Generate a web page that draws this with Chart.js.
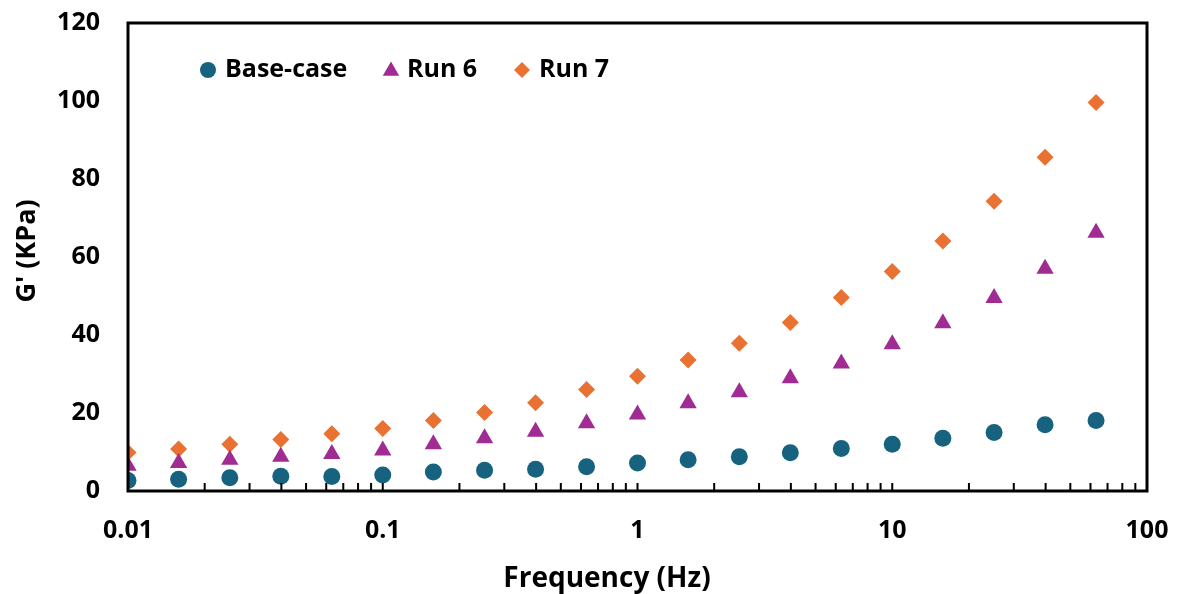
<!DOCTYPE html>
<html>
<head>
<meta charset="utf-8">
<script src="https://cdn.jsdelivr.net/npm/chart.js@4"></script>
<style>
  body { margin: 0; background: #fff; }
  #wrap { width: 1179px; height: 594px; position: relative; }
</style>
</head>
<body>
<div id="wrap"><canvas id="myChart"></canvas></div>
<script>
// frequency (Hz)
const freqs = [0.01, 0.0158, 0.0251, 0.0398, 0.0631, 0.1, 0.158, 0.251, 0.398, 0.631,
               1, 1.58, 2.51, 3.98, 6.31, 10, 15.8, 25.1, 39.8, 63.1];
// G' (KPa)
const baseCase = [2.7, 3.0, 3.4, 3.8, 3.7, 4.1, 4.9, 5.3, 5.6, 6.2,
                  7.2, 8.0, 8.8, 9.8, 10.9, 12.0, 13.5, 15.0, 17.0, 18.1];
const run6 = [6.5, 7.2, 8.0, 8.8, 9.5, 10.4, 12.0, 13.5, 15.2, 17.4,
              19.6, 22.5, 25.3, 28.9, 32.7, 37.6, 43.0, 49.5, 57.0, 66.2];
const run7 = [9.9, 10.8, 12.0, 13.2, 14.7, 16.0, 18.1, 20.1, 22.6, 26.0,
              29.4, 33.6, 37.9, 43.2, 49.6, 56.3, 64.1, 74.3, 85.6, 99.6];
const xMajorTicks = [0.01, 0.1, 1, 10, 100];
const seriesNames = ['Base-case', 'Run 6', 'Run 7'];
const xTitle = 'Frequency (Hz)';
const yTitle = "G' (KPa)";

const FONT = '"Open Sans", Lato, sans-serif';

const toPoints = (ys) => ys.map((y, i) => ({ x: freqs[i], y: y }));

// frame, inward minor ticks on the x axis, axis titles
const framePlugin = {
    id: 'frame',
    afterDraw(chart) {
        const { ctx, chartArea: a } = chart;
        const xs = chart.scales.x;
        ctx.save();
        ctx.strokeStyle = '#000';
        ctx.lineWidth = 2;
        ctx.beginPath();
        for (let d = 0; d < xMajorTicks.length; d++) {
            for (let m = 1; m <= 9; m++) {
                const v = xMajorTicks[d] * m;
                if (v > 100) break;
                const px = xs.getPixelForValue(v);
                ctx.moveTo(px, a.bottom);
                ctx.lineTo(px, a.bottom - 8);
            }
        }
        ctx.stroke();
        ctx.lineWidth = 3;
        ctx.strokeRect(a.left, a.top, a.right - a.left, a.bottom - a.top);

        ctx.fillStyle = '#000';
        ctx.textAlign = 'center';
        ctx.textBaseline = 'alphabetic';
        ctx.font = 'bold 28px ' + FONT;
        ctx.fillText(xTitle, 607, 587);
        ctx.translate(35, 251);
        ctx.rotate(-Math.PI / 2);
        ctx.font = 'bold 27px ' + FONT;
        ctx.fillText(yTitle, 0, 0);
        ctx.restore();
    }
};

// legend drawn inside the plot area
const innerLegend = {
    id: 'innerLegend',
    afterDatasetsDraw(chart) {
        const { ctx } = chart;
        const items = [
            { mx: 208, tx: 225 },
            { mx: 391, tx: 407 },
            { mx: 522, tx: 539 }
        ];
        const y = 70;
        ctx.save();
        chart.data.datasets.forEach((ds, i) => {
            ctx.fillStyle = ds.backgroundColor;
            Chart.helpers.drawPoint(ctx, {
                pointStyle: ds.pointStyle,
                radius: ds.pointStyle === 'triangle' ? 9.5 : 8,
                borderWidth: 0,
                rotation: 0
            }, items[i].mx, ds.pointStyle === 'triangle' ? y + 1 : y);
            ctx.fillStyle = '#000';
            ctx.font = 'bold 25px ' + FONT;
            ctx.textBaseline = 'middle';
            ctx.textAlign = 'left';
            ctx.fillText(seriesNames[i], items[i].tx, y);
        });
        ctx.restore();
    }
};

new Chart(document.getElementById('myChart'), {
    type: 'scatter',
    data: {
        datasets: [{
            label: seriesNames[0],
            data: toPoints(baseCase),
            pointStyle: 'circle',
            backgroundColor: '#17637f',
            borderWidth: 0,
            pointRadius: 8.5
        }, {
            label: seriesNames[1],
            data: toPoints(run6),
            pointStyle: 'triangle',
            backgroundColor: '#a02b93',
            borderWidth: 0,
            pointRadius: 10
        }, {
            label: seriesNames[2],
            data: toPoints(run7),
            pointStyle: 'rectRot',
            backgroundColor: '#e97132',
            borderWidth: 0,
            pointRadius: 8.5
        }]
    },
    options: {
        responsive: true,
        maintainAspectRatio: false,
        animation: false,
        layout: { padding: { left: 0, top: 23, right: 32, bottom: 0 } },
        scales: {
            x: {
                type: 'logarithmic',
                min: 0.01,
                max: 100,
                afterBuildTicks: (scale) => {
                    scale.ticks = xMajorTicks.map((v) => ({ value: v }));
                },
                afterFit: (scale) => { scale.height = 103; },
                grid: { drawOnChartArea: false, color: 'transparent', tickLength: 25 },
                border: { display: false },
                ticks: {
                    autoSkip: false,
                    maxRotation: 0,
                    padding: 0,
                    color: '#000',
                    font: { family: FONT, size: 25, weight: 'bold' },
                    callback: (v) => String(v)
                }
            },
            y: {
                min: 0,
                max: 120,
                afterFit: (scale) => { scale.width = 128; },
                grid: { drawOnChartArea: false, color: 'transparent', tickLength: 28 },
                border: { display: false },
                ticks: {
                    stepSize: 20,
                    padding: 0,
                    color: '#000',
                    font: { family: FONT, size: 25, weight: 'bold' }
                }
            }
        },
        plugins: {
            legend: { display: false },
            tooltip: { enabled: false }
        }
    },
    plugins: [framePlugin, innerLegend]
});
</script>
</body>
</html>
